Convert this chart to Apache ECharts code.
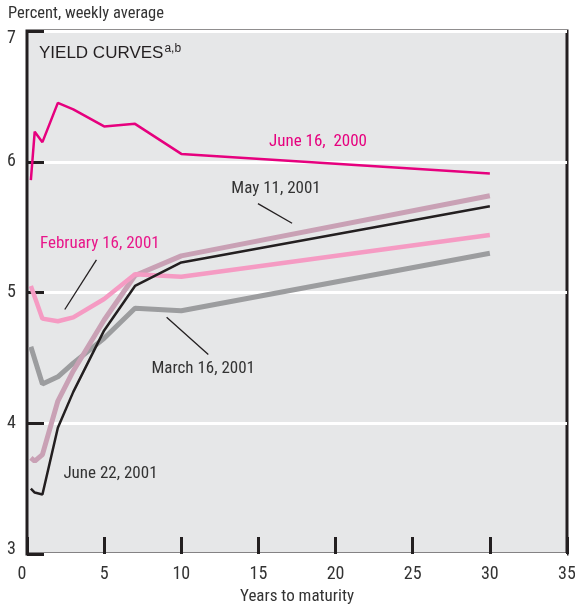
<!DOCTYPE html>
<html>
<head>
<meta charset="utf-8">
<script src="https://cdn.jsdelivr.net/npm/echarts@6/dist/echarts.min.js"></script>
<style>
  html, body { margin: 0; padding: 0; background: #fff; }
  #main { width: 575px; height: 607px; }
</style>
</head>
<body>
<div id="main"></div>
<script>
    // years to maturity (3m, 6m, 1y, 2y, 3y, 5y, 7y, 10y, 30y)
    var maturities = [0.25, 0.5, 1, 2, 3, 5, 7, 10, 30];
    var june16_2000 = [5.86, 6.23, 6.15, 6.45, 6.40, 6.27, 6.29, 6.06, 5.91];
    var feb16_2001 = [5.05, null, 4.80, 4.78, 4.81, 4.95, 5.14, 5.12, 5.44];
    var mar16_2001 = [4.585, null, 4.30, 4.355, 4.46, 4.65, 4.88, 4.86, 5.30];
    var may11_2001 = [3.735, 3.71, 3.76, 4.17, 4.40, 4.79, 5.13, 5.28, 5.74];
    var june22_2001 = [3.50, 3.47, 3.455, 3.965, 4.24, 4.71, 5.05, 5.23, 5.66];

    var xTicks = [0, 5, 10, 15, 20, 25, 30, 35];
    var yTicks = [3, 4, 5, 6, 7];

    // curve labels, placed in data units: [text, x, y, colour]
    var curveLabels = [
        ['June 16,  2000', 18.86, 6.15, '#e6007e'],
        ['May 11, 2001', 16.14, 5.79, '#333333'],
        ['February 16, 2001', 4.72, 5.37, '#e8178a'],
        ['March 16, 2001', 11.42, 4.42, '#333333'],
        ['June 22, 2001', 5.41, 3.61, '#333333']
    ];
    // leader lines: [x1, y1, x2, y2]
    var leaders = [
        [14.97, 5.68, 17.18, 5.53],
        [4.50, 5.25, 2.45, 4.87],
        [9.05, 4.81, 11.75, 4.525]
    ];

    function pairs(vals) {
        return maturities.map(function (m, i) { return [m, vals[i]]; });
    }

    var narrow = '"Liberation Sans Narrow", "Roboto Condensed", "Liberation Sans", Arial, sans-serif';
    var regular = '"Liberation Sans", Arial, sans-serif';
    var dark = '#231f20';

    var myChart = echarts.init(document.getElementById('main'));
    var option = {
        backgroundColor: '#ffffff',
        animation: false,
        title: {
            text: '{t|YIELD CURVES}{s|a,b}',
            left: 34,
            top: 38,
            textStyle: {
                fontWeight: 'normal',
                rich: {
                    t: { fontFamily: regular, fontSize: 17, fontWeight: 'normal', color: dark, lineHeight: 20 },
                    s: { fontFamily: regular, fontSize: 12, fontWeight: 'normal', color: dark, padding: [0, 0, 9, 1] }
                }
            }
        },
        grid: {
            left: 27,
            right: 8,
            top: 31,
            bottom: 53,
            containLabel: false,
            outerBoundsMode: 'none',
            show: true,
            backgroundColor: '#e6e7e8',
            borderColor: dark,
            borderWidth: 3
        },
        xAxis: {
            type: 'value',
            min: 0,
            max: 35,
            interval: 5,
            name: 'Years to maturity',
            nameLocation: 'middle',
            nameGap: 34,
            nameTextStyle: { fontFamily: narrow, fontSize: 17, color: '#333' },
            axisLine: { show: false },
            axisTick: { show: true, inside: true, length: 17, lineStyle: { color: dark, width: 3 } },
            splitLine: { show: false },
            axisLabel: {
                margin: 11,
                fontFamily: narrow,
                fontSize: 18,
                color: '#333',
                formatter: function (v) { return v === 0 ? '{z|0}' : String(v); },
                rich: { z: { fontFamily: narrow, fontSize: 18, color: '#333', padding: [0, 10, 0, 0] } }
            }
        },
        yAxis: {
            type: 'value',
            min: 3,
            max: 7,
            interval: 1,
            name: 'Percent, weekly average',
            nameLocation: 'end',
            nameGap: 9,
            nameTextStyle: { fontFamily: narrow, fontSize: 16.5, color: '#333', align: 'left', padding: [0, 0, 0, -19] },
            axisLine: { show: false },
            axisTick: { show: true, inside: true, length: 17, lineStyle: { color: dark, width: 3 } },
            splitLine: { show: true, lineStyle: { color: '#ffffff', width: 3 } },
            axisLabel: {
                margin: 11,
                fontFamily: narrow,
                fontSize: 18,
                color: '#333',
                formatter: function (v) {
                    if (v === 7) return '{top|7}';
                    if (v === 3) return '{bot|3}';
                    return String(v);
                },
                rich: {
                    top: { fontFamily: narrow, fontSize: 18, color: '#333', padding: [14, 0, 0, 0] },
                    bot: { fontFamily: narrow, fontSize: 18, color: '#333', padding: [0, 0, 10, 0] }
                }
            }
        },
        series: [
            { name: 'March 16, 2001', type: 'line', data: pairs(mar16_2001), connectNulls: true, showSymbol: false, symbol: 'none', z: 2, lineStyle: { color: '#9c9d9f', width: 5 } },
            { name: 'May 11, 2001', type: 'line', data: pairs(may11_2001), connectNulls: true, showSymbol: false, symbol: 'none', z: 3, lineStyle: { color: '#c9a1b5', width: 5 } },
            { name: 'February 16, 2001', type: 'line', data: pairs(feb16_2001), connectNulls: true, showSymbol: false, symbol: 'none', z: 4, lineStyle: { color: '#f59bc3', width: 4.5 } },
            { name: 'June 22, 2001', type: 'line', data: pairs(june22_2001), connectNulls: true, showSymbol: false, symbol: 'none', z: 5, lineStyle: { color: dark, width: 2.5 } },
            { name: 'June 16, 2000', type: 'line', data: pairs(june16_2000), connectNulls: true, showSymbol: false, symbol: 'none', z: 6, lineStyle: { color: '#e6007e', width: 2.5 } }
        ]
    };
    myChart.setOption(option);

    // annotations, converted from data units through the chart's own scales
    var graphics = [];
    curveLabels.forEach(function (l) {
        var p = myChart.convertToPixel({ gridIndex: 0 }, [l[1], l[2]]);
        graphics.push({
            type: 'text', x: p[0], y: p[1], z: 10,
            style: { text: l[0], fill: l[3], font: '17px ' + narrow, align: 'center', verticalAlign: 'middle' }
        });
    });
    leaders.forEach(function (d) {
        var a = myChart.convertToPixel({ gridIndex: 0 }, [d[0], d[1]]);
        var b = myChart.convertToPixel({ gridIndex: 0 }, [d[2], d[3]]);
        graphics.push({
            type: 'line', z: 10,
            shape: { x1: a[0], y1: a[1], x2: b[0], y2: b[1] },
            style: { stroke: dark, lineWidth: 1.3 }
        });
    });
    myChart.setOption({ graphic: graphics });
    window.addEventListener('resize', myChart.resize);
</script>
</body>
</html>
